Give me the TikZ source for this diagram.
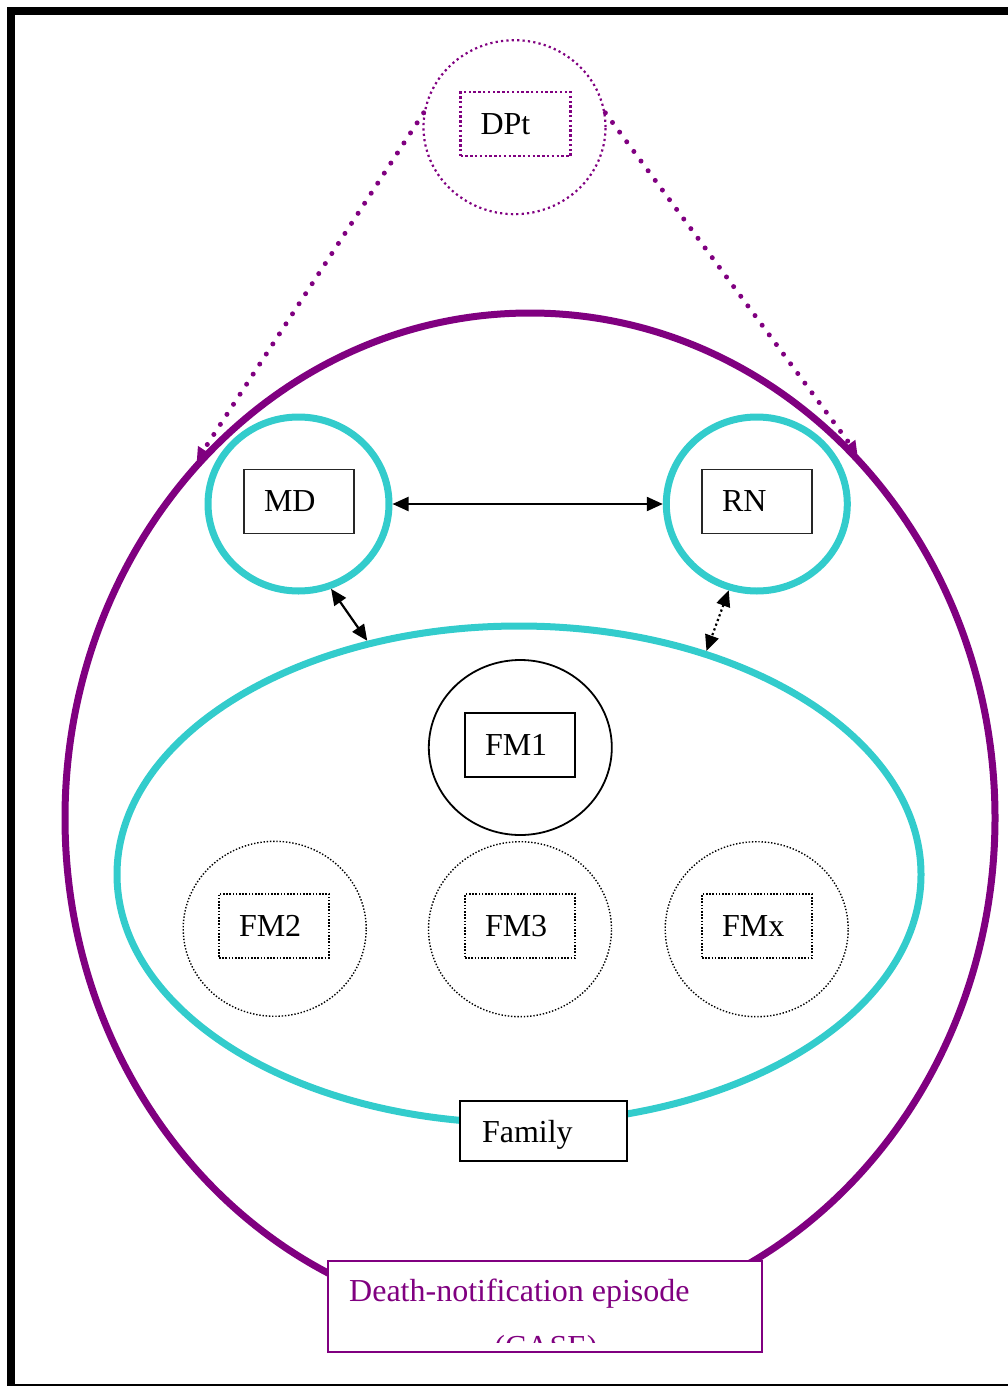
\documentclass[tikz,border=0pt]{standalone}
\usepackage{fontspec}
\setmainfont{Liberation Serif}
\usetikzlibrary{shapes.geometric,arrows.meta}
\definecolor{plum}{RGB}{128,0,128}
\definecolor{aqua}{RGB}{51,204,204}

\begin{document}
\begin{tikzpicture}[x=1pt,y=-1pt,
  every node/.style={font=\fontsize{32}{38}\selectfont},
  oval/.style={ellipse, inner sep=0pt},
  party/.style={oval, draw=aqua, line width=7pt, minimum width=181pt, minimum height=174pt},
  member/.style={oval, draw=black, minimum width=183pt, minimum height=175pt},
  tag/.style={rectangle, minimum height=64pt, text width=70pt, inner xsep=20pt, align=left},
  dotlink/.style={plum, line width=5pt, line cap=round, dash pattern=on 0pt off 12pt,
                  -{Triangle[length=13pt,width=13pt]}},
  link/.style={line width=2.2pt, {Triangle[length=16pt,width=14pt]}-{Triangle[length=16pt,width=14pt]}}
]
\useasboundingbox (0,0) rectangle (1008,1386);

% page frame
\draw[line width=8pt] (10.5,1386) -- (10.5,11.3) -- (1008,11.3);
\draw[line width=1.5pt] (10.5,1385) -- (1008,1385);

% the episode and the family
\node[oval, draw=plum, line width=7pt, minimum width=930pt, minimum height=1010pt] (case) at (530,818) {};
\node[oval, draw=aqua, line width=7pt, minimum width=804pt, minimum height=497pt] (family) at (519,874.5) {};

% doctor and nurse
\node[party] (md) at (298.5,504) {};
\node[party] (rn) at (756.8,504) {};
\node[tag, draw=black!85, line width=1.2pt] (mdbox) at (299,501.3) {MD};
\node[tag, draw=black!85, line width=1.2pt] (rnbox) at (757,501.3) {RN};

% death-notification protocol
\node[oval, draw=plum, line width=2.2pt, dash pattern=on 2.2pt off 3.2pt,
      minimum width=182pt, minimum height=174pt] (dpt) at (514.5,127.2) {};
\node[tag, draw=plum, line width=2.4pt, dash pattern=on 2.4pt off 2.4pt] (dptbox) at (515.5,124.2) {DPt};

% family members
\node[member, line width=1.8pt] (fm1) at (520.3,747.5) {};
\node[tag, draw, line width=2pt] (fm1box) at (520,745.3) {FM1};
\node[member, line width=1.4pt, dash pattern=on 1.4pt off 1.8pt] (fm2) at (274.7,928.8) {};
\node[tag, draw, line width=1.6pt, dash pattern=on 1.6pt off 1.6pt] (fm2box) at (274,925.8) {FM2};
\node[member, line width=1.4pt, dash pattern=on 1.4pt off 1.8pt] (fm3) at (520,929.2) {};
\node[tag, draw, line width=1.6pt, dash pattern=on 1.6pt off 1.6pt] (fm3box) at (520,926.2) {FM3};
\node[member, line width=1.4pt, dash pattern=on 1.4pt off 1.8pt] (fmx) at (756.7,929.2) {};
\node[tag, draw, line width=1.6pt, dash pattern=on 1.6pt off 1.6pt] (fmxbox) at (757,926.2) {FMx};

% family label
\node[rectangle, draw, fill=white, line width=2pt, minimum height=60pt, text width=123pt,
      text depth=0pt, inner xsep=22pt, align=left] (famlabel) at (543.5,1131) {Family};

% connectors
\draw[dotlink] (dpt.171) -- (case.133);
\draw[dotlink] (dpt.9) -- (case.48.6);
\draw[link] (md.east) -- (rn.west);
\draw[link] (md.-69) -- (family.123.6);
\draw[link, dash pattern=on 2.2pt off 2.8pt] (rn.-108) -- (family.50.9);

% episode label
\node[rectangle, draw=plum, fill=white, line width=1.8pt, minimum width=434pt, minimum height=91pt,
      inner sep=0pt] (casebox) at (545,1306.5) {};
\node[anchor=base west, inner sep=0pt, text=plum] (casetitle) at (349,1301) {Death-notification episode};
\begin{scope}
  \clip (330,1263) rectangle (760,1342);
  \node[anchor=base, inner sep=0pt, text=plum] (casetag) at (546,1357) {(CASE)};
\end{scope}
\end{tikzpicture}
\end{document}
